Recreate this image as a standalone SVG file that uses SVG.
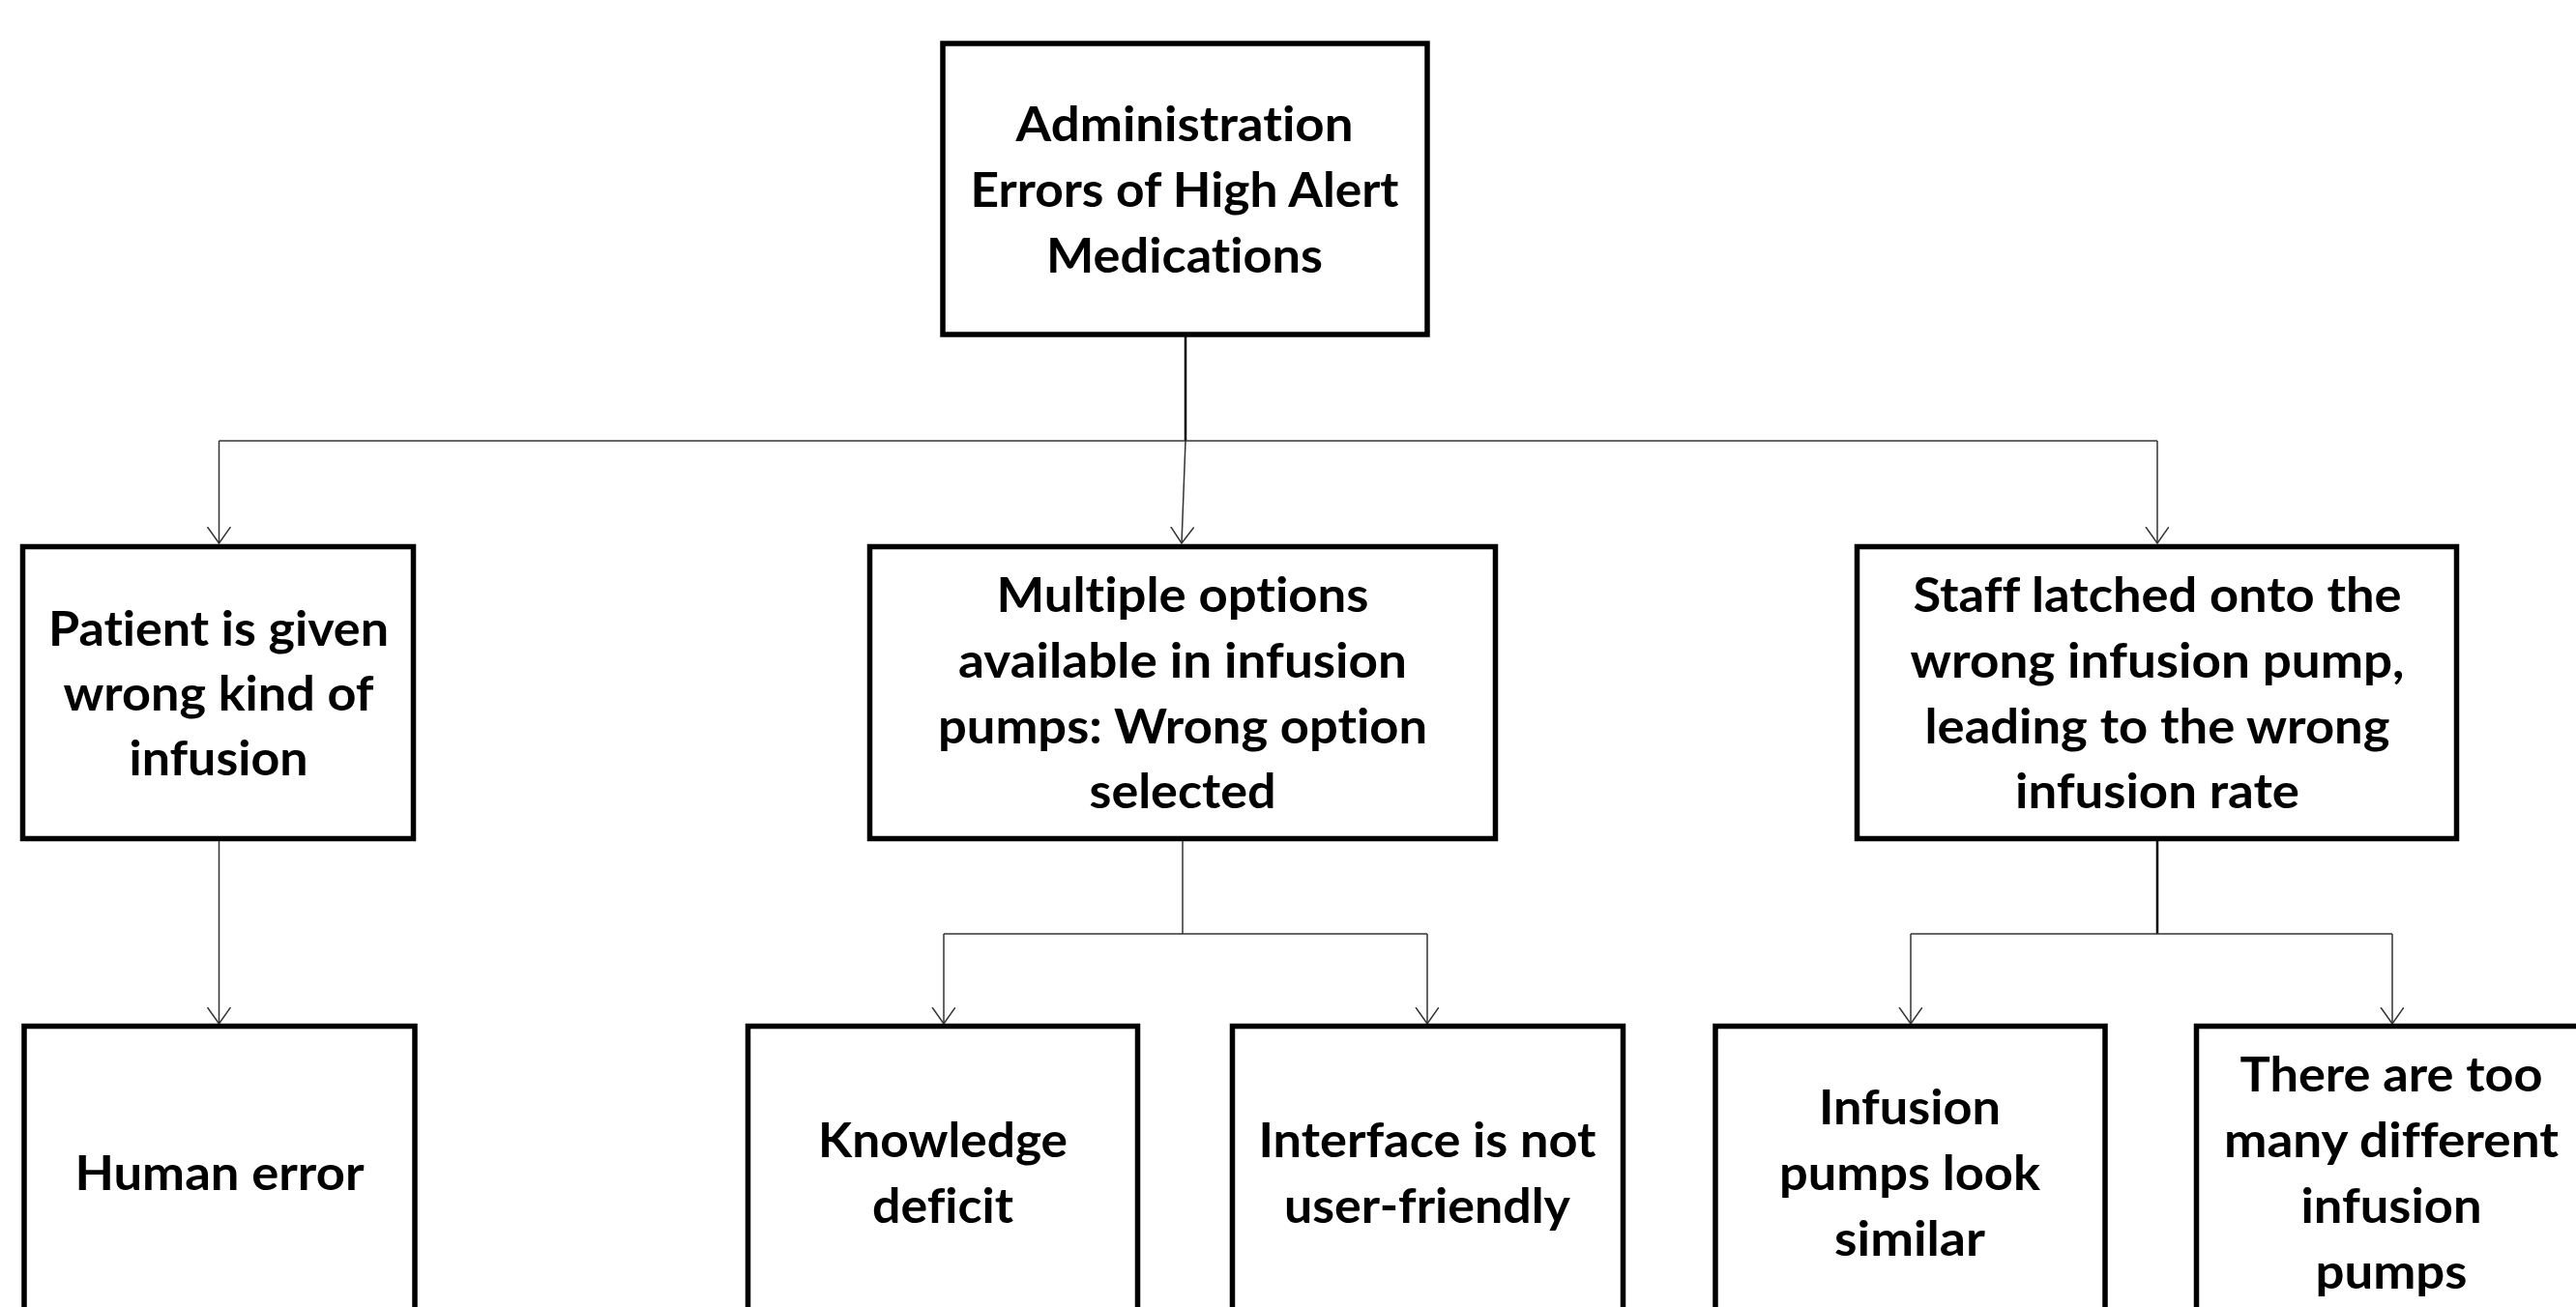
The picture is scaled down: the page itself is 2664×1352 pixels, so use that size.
<svg xmlns="http://www.w3.org/2000/svg" width="2664" height="1352" viewBox="0 0 2664 1352">
<style>
.box{fill:#fff;stroke:#000;stroke-width:5.5}
.t{font-family:Lato,"Open Sans","Liberation Sans",sans-serif;font-weight:700;font-size:50px;fill:#000;text-anchor:middle;font-variant-ligatures:none;font-feature-settings:"liga" 0,"clig" 0}
.c{fill:none;stroke:#333;stroke-width:1.5}
.s{fill:none;stroke:#000;stroke-width:2.5}
</style>
<defs>
<marker id="arr" markerUnits="userSpaceOnUse" markerWidth="30" markerHeight="30" refX="17" refY="12" orient="auto">
<path d="M0,0 L17,12 L0,24" fill="none" stroke="#333" stroke-width="1.5"/>
</marker>
</defs>
<rect width="2664" height="1352" fill="#fff"/>
<g id="connectors">
<line class="s" x1="1226" y1="348" x2="1226" y2="456"/>
<line class="c" x1="226.5" y1="456" x2="2231" y2="456"/>
<line class="c" x1="226.5" y1="456" x2="226.5" y2="562" marker-end="url(#arr)"/>
<line class="c" x1="1226" y1="456" x2="1222" y2="562" marker-end="url(#arr)"/>
<line class="c" x1="2231" y1="456" x2="2231" y2="562" marker-end="url(#arr)"/>
<line class="c" x1="226.5" y1="870" x2="226.5" y2="1059" marker-end="url(#arr)"/>
<line class="c" x1="1223" y1="870" x2="1223" y2="966"/>
<line class="c" x1="976" y1="966" x2="1476" y2="966"/>
<line class="c" x1="976" y1="966" x2="976" y2="1059" marker-end="url(#arr)"/>
<line class="c" x1="1476" y1="966" x2="1476" y2="1059" marker-end="url(#arr)"/>
<line class="s" x1="2231" y1="870" x2="2231" y2="966"/>
<line class="c" x1="1976" y1="966" x2="2474" y2="966"/>
<line class="c" x1="1976" y1="966" x2="1976" y2="1059" marker-end="url(#arr)"/>
<line class="c" x1="2474" y1="966" x2="2474" y2="1059" marker-end="url(#arr)"/>
</g>
<g id="root">
<rect class="box" x="975" y="45" width="501" height="301"/>
<text class="t" x="1225" y="146" textLength="349" lengthAdjust="spacingAndGlyphs">Administration</text>
<text class="t" x="1225" y="214" textLength="443" lengthAdjust="spacingAndGlyphs">Errors of High Alert</text>
<text class="t" x="1225" y="282" textLength="286" lengthAdjust="spacingAndGlyphs">Medications</text>
</g>
<g id="n1">
<rect class="box" x="23.5" y="565.5" width="404" height="302"/>
<text class="t" x="226" y="668" textLength="352" lengthAdjust="spacingAndGlyphs">Patient is given</text>
<text class="t" x="226" y="735" textLength="321" lengthAdjust="spacingAndGlyphs">wrong kind of</text>
<text class="t" x="226" y="802" textLength="185" lengthAdjust="spacingAndGlyphs">infusion</text>
</g>
<g id="n2">
<rect class="box" x="899.5" y="565.5" width="647" height="302"/>
<text class="t" x="1223" y="633" textLength="385" lengthAdjust="spacingAndGlyphs">Multiple options</text>
<text class="t" x="1223" y="701" textLength="464" lengthAdjust="spacingAndGlyphs">available in infusion</text>
<text class="t" x="1223" y="769" textLength="506" lengthAdjust="spacingAndGlyphs">pumps: Wrong option</text>
<text class="t" x="1223" y="836" textLength="193" lengthAdjust="spacingAndGlyphs">selected</text>
</g>
<g id="n3">
<rect class="box" x="1920.5" y="565.5" width="620" height="302"/>
<text class="t" x="2231" y="633" textLength="505" lengthAdjust="spacingAndGlyphs">Staff latched onto the</text>
<text class="t" x="2231" y="701" textLength="511" lengthAdjust="spacingAndGlyphs">wrong infusion pump,</text>
<text class="t" x="2231" y="769" textLength="481" lengthAdjust="spacingAndGlyphs">leading to the wrong</text>
<text class="t" x="2231" y="836" textLength="294" lengthAdjust="spacingAndGlyphs">infusion rate</text>
</g>
<g id="n4">
<rect class="box" x="25" y="1061.5" width="404" height="310"/>
<text class="t" x="227" y="1231" textLength="299" lengthAdjust="spacingAndGlyphs">Human error</text>
</g>
<g id="n5">
<rect class="box" x="773.5" y="1061.5" width="403" height="310"/>
<text class="t" x="975" y="1197" textLength="258" lengthAdjust="spacingAndGlyphs">Knowledge</text>
<text class="t" x="975" y="1265" textLength="146" lengthAdjust="spacingAndGlyphs">deficit</text>
</g>
<g id="n6">
<rect class="box" x="1274.5" y="1061.5" width="404" height="310"/>
<text class="t" x="1476" y="1197" textLength="349" lengthAdjust="spacingAndGlyphs">Interface is not</text>
<text class="t" x="1476" y="1265" textLength="296" lengthAdjust="spacingAndGlyphs">user-friendly</text>
</g>
<g id="n7">
<rect class="box" x="1774" y="1061.5" width="403" height="310"/>
<text class="t" x="1975" y="1163" textLength="188" lengthAdjust="spacingAndGlyphs">Infusion</text>
<text class="t" x="1975" y="1231" textLength="270" lengthAdjust="spacingAndGlyphs">pumps look</text>
<text class="t" x="1975" y="1299" textLength="156" lengthAdjust="spacingAndGlyphs">similar</text>
</g>
<g id="n8">
<rect class="box" x="2271.5" y="1061.5" width="404" height="310"/>
<text class="t" x="2473" y="1129" textLength="313" lengthAdjust="spacingAndGlyphs">There are too</text>
<text class="t" x="2473" y="1197" textLength="346" lengthAdjust="spacingAndGlyphs">many different</text>
<text class="t" x="2473" y="1265" textLength="187" lengthAdjust="spacingAndGlyphs">infusion</text>
<text class="t" x="2473" y="1333" textLength="157" lengthAdjust="spacingAndGlyphs">pumps</text>
</g>
</svg>
